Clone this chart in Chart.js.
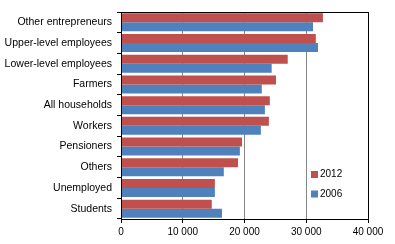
<!DOCTYPE html>
<html>
<head>
<meta charset="utf-8">
<script src="https://cdn.jsdelivr.net/npm/chart.js@4.4.0/dist/chart.umd.min.js"></script>
<style>
  html, body { margin: 0; padding: 0; background: #fff; }
  #wrap { width: 395px; height: 244px; }
</style>
</head>
<body>
<div id="wrap"><canvas id="chart"></canvas></div>
<script>
const categories = [
  "Other entrepreneurs",
  "Upper-level employees",
  "Lower-level employees",
  "Farmers",
  "All households",
  "Workers",
  "Pensioners",
  "Others",
  "Unemployed",
  "Students",
];
const values2012 = [32700, 31550, 27000, 25100, 24100, 23950, 19600, 18950, 15200, 14700];
const values2006 = [31100, 31900, 24400, 22800, 23300, 22650, 19250, 16650, 15200, 16350];
const xTicks = [0, 10000, 20000, 30000, 40000];

const fontFamily = "'Liberation Sans', Arial, sans-serif";

// plot frame + legend drawn inside the plot area
const framePlugin = {
  id: "frame",
  afterDatasetsDraw(chart) {
    const ctx = chart.ctx;
    const a = chart.chartArea;
    ctx.save();
    ctx.strokeStyle = "#000";
    ctx.lineWidth = 1;
    ctx.strokeRect(a.left + 0.5, a.top + 0.5, a.right - a.left, a.bottom - a.top);

    ctx.font = "10px " + fontFamily;
    ctx.textBaseline = "middle";
    ctx.textAlign = "left";
    chart.data.datasets.forEach(function (ds, i) {
      const x = a.left + 190;
      const y = a.top + 162 + i * 19.5;
      ctx.fillStyle = ds.backgroundColor;
      ctx.fillRect(x, y - 3, 7, 7);
      ctx.fillStyle = "#000";
      ctx.fillText(ds.label, x + 9, y + 0.5);
    });
    ctx.restore();
  },
};

new Chart(document.getElementById("chart").getContext("2d"), {
  type: "bar",
  data: {
    labels: categories,
    datasets: [
      {
        label: "2012",
        data: values2012,
        backgroundColor: "#C0504D",
        barPercentage: 1,
        categoryPercentage: 0.87,
      },
      {
        label: "2006",
        data: values2006,
        backgroundColor: "#4F81BD",
        barPercentage: 1,
        categoryPercentage: 0.87,
      },
    ],
  },
  plugins: [framePlugin],
  options: {
    indexAxis: "y",
    responsive: true,
    maintainAspectRatio: false,
    animation: false,
    layout: {
      padding: { top: 12, right: 27, left: 0, bottom: 0 },
    },
    plugins: {
      legend: { display: false },
      tooltip: { enabled: false },
    },
    scales: {
      x: {
        min: 0,
        max: 40000,
        afterBuildTicks: function (scale) {
          scale.ticks = xTicks.map(function (v) { return { value: v }; });
        },
        afterFit: function (scale) {
          scale.height = 25;
        },
        ticks: {
          color: "#000",
          font: { family: fontFamily, size: 10 },
          padding: 3,
          maxRotation: 0,
          callback: function (v) {
            return String(v).replace(/\B(?=(\d{3})+(?!\d))/g, " ");
          },
        },
        grid: {
          color: function (c) {
            return c.tick && (c.tick.value === 0 || c.tick.value === 40000) ? "#000" : "#868686";
          },
          lineWidth: 1,
          tickColor: "#000",
          tickLength: 4,
        },
        border: { color: "#000" },
      },
      y: {
        afterFit: function (scale) {
          scale.width = 121;
        },
        ticks: {
          color: "#000",
          font: { family: fontFamily, size: 10.5 },
          padding: 5,
        },
        grid: {
          drawOnChartArea: false,
          tickColor: "#000",
          tickLength: 4,
        },
        border: { color: "#000" },
      },
    },
  },
});
</script>
</body>
</html>
